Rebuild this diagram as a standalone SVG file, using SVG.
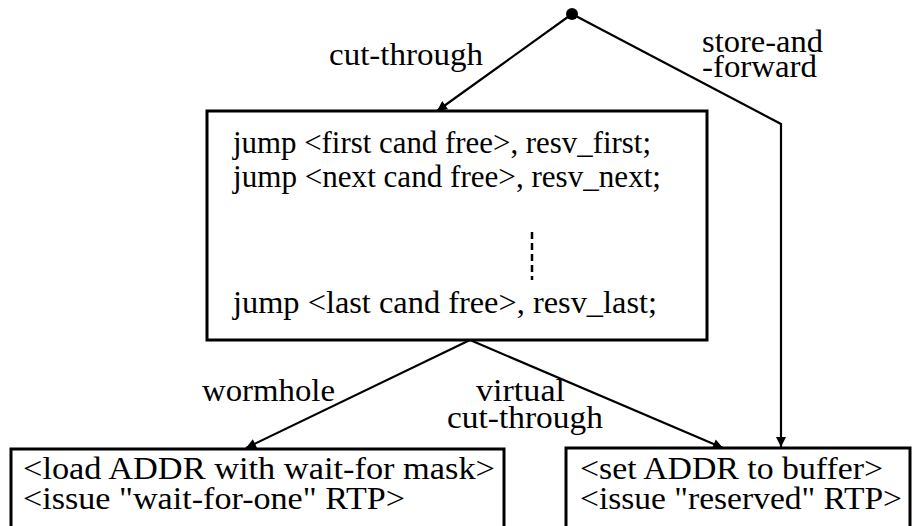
<svg xmlns="http://www.w3.org/2000/svg" width="914" height="526" viewBox="0 0 914 526">
  <defs>
    <marker id="arrow" viewBox="0 0 10 10" refX="10" refY="5" markerWidth="12" markerHeight="10" markerUnits="userSpaceOnUse" orient="auto">
      <path d="M0,0 L10,5 L0,10 z" fill="#000"/>
    </marker>
    <style>
      .box { fill: #fff; stroke: #000; stroke-width: 3; }
      .edge { fill: none; stroke: #000; stroke-width: 2.2; }
    </style>
  </defs>

  <g font-family="Liberation Serif" font-size="31" fill="#000">
  <!-- connectors and their labels -->
  <g id="connectors">
    <circle cx="572" cy="14" r="6" fill="#000"/>
    <line class="edge" x1="572" y1="14" x2="437" y2="111" marker-end="url(#arrow)"/>
    <polyline class="edge" points="572,14 781,124 781,447" marker-end="url(#arrow)"/>
    <line class="edge" x1="470" y1="340" x2="246" y2="448" marker-end="url(#arrow)"/>
    <line class="edge" x1="470" y1="340" x2="723" y2="448" marker-end="url(#arrow)"/>
    <text x="329" y="65" textLength="154" lengthAdjust="spacingAndGlyphs">cut-through</text>
    <text x="702" y="52" textLength="121" lengthAdjust="spacingAndGlyphs">store-and</text>
    <text x="702" y="77" textLength="115" lengthAdjust="spacingAndGlyphs">-forward</text>
    <text x="202" y="401" textLength="133" lengthAdjust="spacingAndGlyphs">wormhole</text>
    <text x="476" y="401" textLength="89" lengthAdjust="spacingAndGlyphs">virtual</text>
    <text x="447" y="428" textLength="156" lengthAdjust="spacingAndGlyphs">cut-through</text>
  </g>

  <!-- reservation jump table -->
  <g id="jump-table">
    <rect class="box" x="207" y="111" width="500" height="229"/>
    <text x="233" y="153" textLength="418" lengthAdjust="spacingAndGlyphs">jump &lt;first cand free&gt;, resv_first;</text>
    <text x="233" y="187" textLength="428" lengthAdjust="spacingAndGlyphs">jump &lt;next cand free&gt;, resv_next;</text>
    <line x1="532" y1="232" x2="532" y2="280" stroke="#000" stroke-width="2.5" stroke-dasharray="7,4"/>
    <text x="233" y="313" textLength="424" lengthAdjust="spacingAndGlyphs">jump &lt;last cand free&gt;, resv_last;</text>
  </g>

  <!-- wormhole action -->
  <g id="wormhole-action">
    <rect class="box" x="11" y="449" width="493" height="100"/>
    <text x="23" y="479" textLength="472" lengthAdjust="spacingAndGlyphs">&lt;load ADDR with wait-for mask&gt;</text>
    <text x="23" y="509" textLength="382" lengthAdjust="spacingAndGlyphs">&lt;issue "wait-for-one" RTP&gt;</text>
  </g>

  <!-- buffered action -->
  <g id="buffer-action">
    <rect class="box" x="566" y="448" width="344" height="100"/>
    <text x="580" y="479" textLength="303" lengthAdjust="spacingAndGlyphs">&lt;set ADDR to buffer&gt;</text>
    <text x="580" y="509" textLength="322" lengthAdjust="spacingAndGlyphs">&lt;issue "reserved" RTP&gt;</text>
  </g>
  </g>
</svg>
